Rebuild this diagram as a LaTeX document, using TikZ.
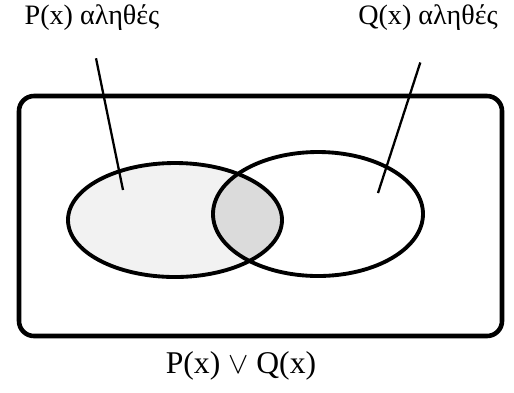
\documentclass[tikz,border=0pt]{standalone}
\usepackage{fontspec}
\setmainfont{Liberation Serif}
\usepackage{tikz}
\usetikzlibrary{shapes.geometric}

\begin{document}
\begin{tikzpicture}[line width=2.2pt,
    set/.style={draw, ellipse, inner sep=0pt},
    pointer/.style={line width=1.3pt},
    label/.style={font=\fontsize{16}{18}\selectfont}]
    \useasboundingbox (0,0) rectangle (10.28,-7.84);

    % shading: P(x) region and the overlap
    \fill[gray!10] (3.5,-4.4) ellipse (2.14 and 1.14);
    \begin{scope}
        \clip (3.5,-4.4) ellipse (2.14 and 1.14);
        \fill[gray!28] (6.36,-4.28) ellipse (2.1 and 1.24);
    \end{scope}

    \draw[rounded corners=0.3cm, line width=2.6pt] (0.38,-1.92) rectangle (10.04,-6.72);

    \node[set, minimum width=4.28cm, minimum height=2.28cm] (P) at (3.5,-4.4) {};
    \node[set, minimum width=4.2cm, minimum height=2.48cm] (Q) at (6.36,-4.28) {};

    \node[label] (Plabel) at (1.84,-0.36) {P(x) αληθές};
    \node[label] (Qlabel) at (8.56,-0.36) {Q(x) αληθές};
    \node[font=\fontsize{18}{20}\selectfont] (PorQ) at (4.82,-7.32) {P(x) $\vee$ Q(x)};

    \coordinate (Ptip) at (2.46,-3.8);
    \coordinate (Qtip) at (7.56,-3.86);

    \draw[pointer, shorten <=0.4cm] (Plabel.south) -- (Ptip);
    \draw[pointer, shorten <=0.5cm] (Qlabel.south) -- (Qtip);
\end{tikzpicture}
\end{document}
